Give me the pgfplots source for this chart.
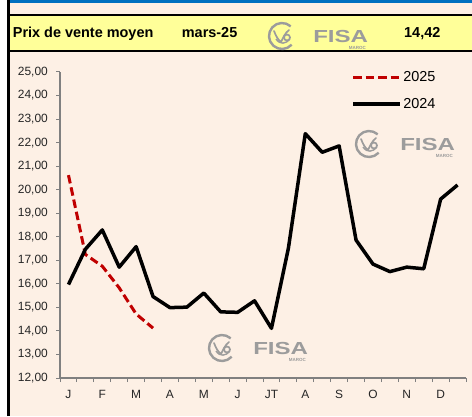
\documentclass[border=0pt]{standalone}
\usepackage{pgfplots}
\pgfplotsset{compat=1.18}
\usepackage{fontspec}
\setmainfont{Liberation Sans}
\definecolor{bgbeige}{HTML}{FDF0E5}
\definecolor{hdryellow}{HTML}{FFFF99}
\definecolor{topblue}{HTML}{0070C0}
\definecolor{red25}{HTML}{C00000}
\definecolor{logogray}{HTML}{9C9C9C}
\definecolor{axgray}{HTML}{808080}

\pgfplotstableread{
x y
0 20.62
1 17.25
2 16.75
3 15.83
4 14.72
5 14.12
}\dataA
\pgfplotstableread{
x y
0 15.97
1 17.47
2 18.29
3 16.71
4 17.58
5 15.46
6 14.99
7 15.01
8 15.61
9 14.81
10 14.79
11 15.28
12 14.11
13 17.51
14 22.38
15 21.59
16 21.86
17 17.86
18 16.84
19 16.52
20 16.71
21 16.64
22 19.60
23 20.20
}\dataB

\tikzset{fisa/.pic={
  \draw[logogray, line width=2.4bp] (12,0) ++(48:13) arc[start angle=48, end angle=318, radius=13];
  \draw[logogray, line width=1.7bp, line cap=round] (4,5) .. controls (6,0) and (8,-4) .. (11,-6) .. controls (13,-2) and (15,3) .. (19,6);
  \draw[logogray, line width=1.7bp] (17,-1.5) circle[radius=3];
  \draw[logogray, line width=1.4bp] (6,-3) .. controls (10,-9) and (16,-8) .. (20,-3);
  \node[logogray, anchor=base west, inner sep=0pt, font=\fontsize{17.5}{18}\selectfont\bfseries, xscale=1.38, transform shape] at (43,-6.5) {FISA};
  \node[logogray, anchor=base east, inner sep=0pt, font=\fontsize{4.5}{5}\selectfont\bfseries] at (96,-13) {MAROC};
}}

\begin{document}
\begin{tikzpicture}[x=1bp,y=1bp]
\useasboundingbox (0,0) rectangle (472,416);
\fill[white] (0,0) rectangle (472,416);
\fill[bgbeige] (8.7,0) rectangle (472,412.7);
\fill[topblue] (8.7,412.7) rectangle (472,416);
\fill[hdryellow] (8.7,365) rectangle (472,401);
\draw[black, line width=2.2bp] (8.7,401) -- (472,401);
\draw[black, line width=2.2bp] (8.7,365) -- (472,365);
\draw[black, line width=2.7bp] (8.7,0) -- (8.7,416);

\node[anchor=base west, inner sep=0pt, font=\fontsize{14.5}{15}\selectfont\bfseries] at (12.7,378.5) {Prix de vente moyen};
\node[anchor=base west, inner sep=0pt, font=\fontsize{14.5}{15}\selectfont\bfseries] at (181.7,378.5) {mars-25};
\node[anchor=base west, inner sep=0pt, font=\fontsize{14.5}{15}\selectfont\bfseries] at (404,378.5) {14,42};

\pic at (270,380) {fisa};
\pic at (357,272) {fisa};
\pic at (210,68) {fisa};

\begin{axis}[
  at={(60bp,38bp)}, anchor=south west,
  scale only axis, width=406bp, height=306bp,
  xmin=-0.5, xmax=23.5, ymin=12, ymax=25,
  axis x line*=bottom, axis y line*=left,
  axis line style={axgray, line width=1.2bp, -},
  xtick={0,2,...,22},
  xticklabels={J,F,M,A,M,J,JT,A,S,O,N,D},
  minor xtick={-0.5,0.5,...,23.5},
  major x tick style={draw=none},
  minor x tick style={axgray, line width=1bp},
  minor tick length=4bp,
  ytick={12,13,...,25},
  y tick style={axgray, line width=1bp},
  major tick length=4bp,
  tick align=outside,
  /pgf/number format/assume math mode=true,
  yticklabel={\pgfmathprintnumber[fixed,fixed zerofill,precision=2,use comma]{\tick}},
  tick label style={font=\fontsize{12}{13}\selectfont, text=black!85},
  yticklabel style={anchor=east, inner sep=0pt, xshift=-8bp},
  xticklabel style={anchor=base, inner sep=0pt, yshift=-16bp},
  legend style={draw=none, fill=none, at={(rel axis cs:0.717,1.007)}, anchor=north west,
    font=\fontsize{14.5}{15}\selectfont, row sep=12bp, inner sep=0pt,
    nodes={inner sep=1.5bp}},
  legend cell align=left,
  legend image code/.code={\draw[#1] (0bp,0bp) -- (47bp,0bp);},
  clip=false,
]
\addplot[red25, line width=3bp, dash pattern=on 8.5bp off 4bp] table[x=x,y=y]{\dataA};
\addlegendentry{2025}
\addplot[black, line width=3.5bp, line join=round] table[x=x,y=y]{\dataB};
\addlegendentry{2024}
\end{axis}
\end{tikzpicture}
\end{document}
